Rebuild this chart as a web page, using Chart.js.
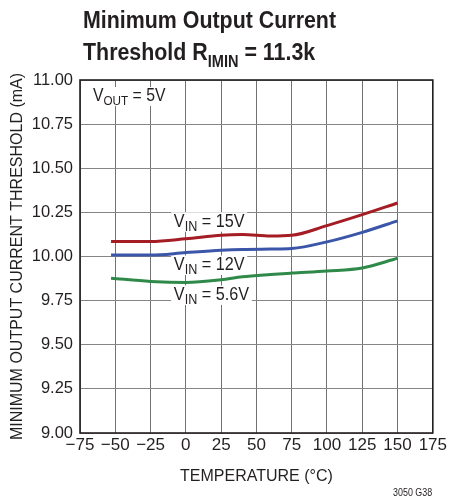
<!DOCTYPE html>
<html>
<head>
<meta charset="utf-8">
<script src="https://cdn.jsdelivr.net/npm/chart.js@4.4.1/dist/chart.umd.min.js"></script>
<style>
  html, body { margin: 0; padding: 0; background: #fff; }
  #wrap { position: relative; width: 449px; height: 500px; overflow: hidden; }
  #cv { position: absolute; left: 0; top: 0; }
  .ttl { position: absolute; left: 83px; font-family: "Liberation Sans", Arial, sans-serif;
         font-weight: bold; font-size: 23.5px; color: #231f20; white-space: nowrap; line-height: 24px;
         transform: scaleX(0.91); transform-origin: 0 0; }
  .ttl sub { font-size: 16px; vertical-align: -7px; line-height: 0; }
  #note { position: absolute; left: 393px; top: 486px; font-family: "Liberation Sans", Arial, sans-serif;
          font-size: 10.5px; color: #231f20; transform: scaleX(0.85); transform-origin: 0 0; white-space: nowrap; }
</style>
</head>
<body>
<div id="wrap">
  <canvas id="cv" width="449" height="500"></canvas>
  <div class="ttl" style="top:8px">Minimum Output Current</div>
  <div class="ttl" style="top:40px">Threshold R<sub>IMIN</sub> = 11.3k</div>
  <div id="note">3050 G38</div>
</div>
<script>
// Temperature points (°C) shared by all three curves
const temperature = [-53, -25, 0, 25, 40, 60, 75, 100, 125, 150];
// Threshold current (mA) for each input voltage
const vin15 = [10.085, 10.085, 10.100, 10.120, 10.124, 10.116, 10.120, 10.175, 10.237, 10.303];
const vin12 = [10.008, 10.008, 10.022, 10.035, 10.040, 10.042, 10.045, 10.083, 10.137, 10.202];
const vin56 = [9.877, 9.859, 9.853, 9.868, 9.885, 9.898, 9.906, 9.918, 9.935, 9.990];
// Axis tick values
const xTicks = [-75, -50, -25, 0, 25, 50, 75, 100, 125, 150, 175];
const yTicks = [9.00, 9.25, 9.50, 9.75, 10.00, 10.25, 10.50, 10.75, 11.00];

const FONT = '"Liberation Sans", Arial, sans-serif';
const INK = '#231f20';
const SQUEEZE = 0.9;   // horizontal condensing for in-plot labels

function pts(ys) { return temperature.map((t, i) => ({ x: t, y: ys[i] })); }

// Curve labels with a subscript, e.g. V_IN = 15V
const curveLabels = [
  { main: 'V', sub: 'IN', rest: ' = 15V', x: -8.5, y: 10.169 },
  { main: 'V', sub: 'IN', rest: ' = 12V', x: -8.5, y: 9.924 },
  { main: 'V', sub: 'IN', rest: ' = 5.6V', x: -8.5, y: 9.754 }
];

function drawSubLabel(ctx, x, baseline, main, sub, rest, size, subSize) {
  ctx.save();
  ctx.translate(x, baseline);
  ctx.scale(SQUEEZE, 1);
  ctx.font = size + 'px ' + FONT;
  const w1 = ctx.measureText(main).width;
  const w3 = ctx.measureText(rest).width;
  ctx.font = subSize + 'px ' + FONT;
  const w2 = ctx.measureText(sub).width;
  const total = w1 + w2 + w3;
  ctx.fillStyle = '#fff';
  ctx.fillRect(-3, -size * 0.8, total + 6, size * 0.8 + 5);
  ctx.fillStyle = INK;
  ctx.textBaseline = 'alphabetic';
  ctx.textAlign = 'left';
  ctx.font = size + 'px ' + FONT;
  ctx.fillText(main, 0, 0);
  ctx.font = subSize + 'px ' + FONT;
  ctx.fillText(sub, w1, 4);
  ctx.font = size + 'px ' + FONT;
  ctx.fillText(rest, w1 + w2, 0);
  ctx.restore();
}

const framePlugin = {
  id: 'frameAndLabels',
  beforeDatasetsDraw(chart) {
    const { ctx, chartArea: a, scales } = chart;
    curveLabels.forEach(l => {
      drawSubLabel(ctx, scales.x.getPixelForValue(l.x), scales.y.getPixelForValue(l.y),
                   l.main, l.sub, l.rest, 18, 14);
    });
    drawSubLabel(ctx, a.left + 13, a.top + 21, 'V', 'OUT', ' = 5V', 17.5, 13);
    ctx.save();
    ctx.strokeStyle = INK;
    ctx.lineWidth = 1.6;
    ctx.strokeRect(a.left, a.top, a.right - a.left, a.bottom - a.top);
    ctx.restore();
  }
};

new Chart(document.getElementById('cv'), {
  type: 'line',
  data: {
    datasets: [
      { label: 'VIN = 15V', data: pts(vin15), borderColor: '#a51d24' },
      { label: 'VIN = 12V', data: pts(vin12), borderColor: '#3b55a8' },
      { label: 'VIN = 5.6V', data: pts(vin56), borderColor: '#2f8a4a' }
    ]
  },
  options: {
    responsive: false,
    animation: false,
    devicePixelRatio: 1,
    layout: { padding: { top: 80, right: 15, left: 0, bottom: 0 } },
    elements: {
      line: { borderWidth: 3, cubicInterpolationMode: 'monotone', fill: false },
      point: { radius: 0 }
    },
    plugins: { legend: { display: false }, tooltip: { enabled: false } },
    scales: {
      x: {
        type: 'linear', min: -75, max: 175,
        afterFit(s) { s.height = 67; },
        afterBuildTicks(s) { s.ticks = xTicks.map(v => ({ value: v })); },
        grid: { color: '#727272', lineWidth: 1, drawTicks: false },
        border: { display: false },
        ticks: {
          padding: 2, color: INK, font: { family: FONT, size: 17 },
          maxRotation: 0, minRotation: 0, autoSkip: false,
          callback: v => String(v).replace('-', '\u2212')
        },
        title: { display: true, text: 'TEMPERATURE (°C)', color: INK,
                 font: { family: FONT, size: 16 }, padding: { top: 0, bottom: 14 } }
      },
      y: {
        min: 9, max: 11,
        afterFit(s) { s.width = 80; },
        afterBuildTicks(s) { s.ticks = yTicks.map(v => ({ value: v })); },
        grid: { color: '#868686', lineWidth: 1, drawTicks: false },
        border: { display: false },
        ticks: {
          padding: 7, color: INK, font: { family: FONT, size: 16.5 },
          callback: v => Number(v).toFixed(2)
        },
        title: { display: true, text: 'MINIMUM OUTPUT CURRENT THRESHOLD (mA)', color: INK,
                 font: { family: FONT, size: 16 }, padding: { top: 8, bottom: 0 } }
      }
    }
  },
  plugins: [framePlugin]
});
</script>
</body>
</html>
